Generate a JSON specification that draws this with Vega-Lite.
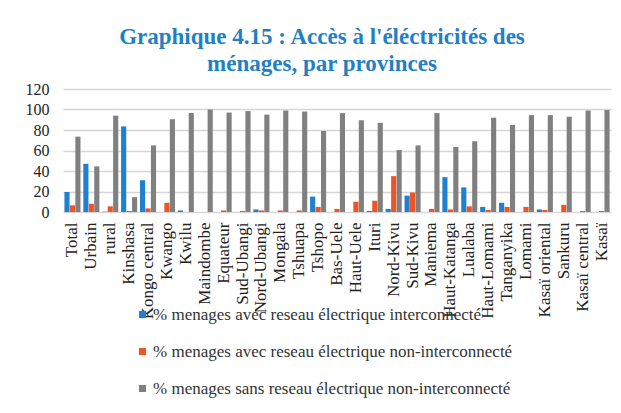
{
  "$schema": "https://vega.github.io/schema/vega-lite/v6.json",
  "autosize": {"type": "none"},
  "width": 548,
  "height": 123,
  "padding": {"left": 63, "top": 89, "right": 10, "bottom": 201},
  "background": "white",
  "title": {
    "text": ["Graphique 4.15 : Accès à l'éléctricités des", "ménages, par provinces"],
    "font": "Liberation Serif",
    "fontSize": 23,
    "fontWeight": "bold",
    "color": "#1f80c6",
    "lineHeight": 27,
    "anchor": "middle",
    "dx": -15,
    "offset": 5
  },
  "config": {
    "view": {"stroke": null},
    "font": "Liberation Serif"
  },
  "data": {
    "values": [
      {"province": "Total", "serie": "% menages avec reseau électrique interconnecté", "valeur": 19.5},
      {"province": "Total", "serie": "% menages avec reseau électrique non-interconnecté", "valeur": 6.5},
      {"province": "Total", "serie": "% menages sans reseau électrique non-interconnecté", "valeur": 73.5},
      {"province": "Urbain", "serie": "% menages avec reseau électrique interconnecté", "valeur": 47},
      {"province": "Urbain", "serie": "% menages avec reseau électrique non-interconnecté", "valeur": 8},
      {"province": "Urbain", "serie": "% menages sans reseau électrique non-interconnecté", "valeur": 44.5},
      {"province": "rural", "serie": "% menages avec reseau électrique interconnecté", "valeur": 0.3},
      {"province": "rural", "serie": "% menages avec reseau électrique non-interconnecté", "valeur": 5.5},
      {"province": "rural", "serie": "% menages sans reseau électrique non-interconnecté", "valeur": 94},
      {"province": "Kinshasa", "serie": "% menages avec reseau électrique interconnecté", "valeur": 83.5},
      {"province": "Kinshasa", "serie": "% menages avec reseau électrique non-interconnecté", "valeur": 1},
      {"province": "Kinshasa", "serie": "% menages sans reseau électrique non-interconnecté", "valeur": 14.5},
      {"province": "Kongo central", "serie": "% menages avec reseau électrique interconnecté", "valeur": 31},
      {"province": "Kongo central", "serie": "% menages avec reseau électrique non-interconnecté", "valeur": 3.5},
      {"province": "Kongo central", "serie": "% menages sans reseau électrique non-interconnecté", "valeur": 65},
      {"province": "Kwango", "serie": "% menages avec reseau électrique interconnecté", "valeur": 0},
      {"province": "Kwango", "serie": "% menages avec reseau électrique non-interconnecté", "valeur": 9},
      {"province": "Kwango", "serie": "% menages sans reseau électrique non-interconnecté", "valeur": 90.5},
      {"province": "Kwilu", "serie": "% menages avec reseau électrique interconnecté", "valeur": 1.5},
      {"province": "Kwilu", "serie": "% menages avec reseau électrique non-interconnecté", "valeur": 0},
      {"province": "Kwilu", "serie": "% menages sans reseau électrique non-interconnecté", "valeur": 96.5},
      {"province": "Maindombe", "serie": "% menages avec reseau électrique interconnecté", "valeur": 0},
      {"province": "Maindombe", "serie": "% menages avec reseau électrique non-interconnecté", "valeur": 0},
      {"province": "Maindombe", "serie": "% menages sans reseau électrique non-interconnecté", "valeur": 100},
      {"province": "Equateur", "serie": "% menages avec reseau électrique interconnecté", "valeur": 0},
      {"province": "Equateur", "serie": "% menages avec reseau électrique non-interconnecté", "valeur": 1.5},
      {"province": "Equateur", "serie": "% menages sans reseau électrique non-interconnecté", "valeur": 97},
      {"province": "Sud-Ubangi", "serie": "% menages avec reseau électrique interconnecté", "valeur": 0},
      {"province": "Sud-Ubangi", "serie": "% menages avec reseau électrique non-interconnecté", "valeur": 1},
      {"province": "Sud-Ubangi", "serie": "% menages sans reseau électrique non-interconnecté", "valeur": 98.5},
      {"province": "Nord-Ubangi", "serie": "% menages avec reseau électrique interconnecté", "valeur": 2.5},
      {"province": "Nord-Ubangi", "serie": "% menages avec reseau électrique non-interconnecté", "valeur": 1.5},
      {"province": "Nord-Ubangi", "serie": "% menages sans reseau électrique non-interconnecté", "valeur": 95},
      {"province": "Mongala", "serie": "% menages avec reseau électrique interconnecté", "valeur": 0},
      {"province": "Mongala", "serie": "% menages avec reseau électrique non-interconnecté", "valeur": 1.5},
      {"province": "Mongala", "serie": "% menages sans reseau électrique non-interconnecté", "valeur": 99},
      {"province": "Tshuapa", "serie": "% menages avec reseau électrique interconnecté", "valeur": 0},
      {"province": "Tshuapa", "serie": "% menages avec reseau électrique non-interconnecté", "valeur": 1.5},
      {"province": "Tshuapa", "serie": "% menages sans reseau électrique non-interconnecté", "valeur": 98},
      {"province": "Tshopo", "serie": "% menages avec reseau électrique interconnecté", "valeur": 15},
      {"province": "Tshopo", "serie": "% menages avec reseau électrique non-interconnecté", "valeur": 5},
      {"province": "Tshopo", "serie": "% menages sans reseau électrique non-interconnecté", "valeur": 79},
      {"province": "Bas-Uele", "serie": "% menages avec reseau électrique interconnecté", "valeur": 0},
      {"province": "Bas-Uele", "serie": "% menages avec reseau électrique non-interconnecté", "valeur": 3},
      {"province": "Bas-Uele", "serie": "% menages sans reseau électrique non-interconnecté", "valeur": 96.5},
      {"province": "Haut-Uele", "serie": "% menages avec reseau électrique interconnecté", "valeur": 0},
      {"province": "Haut-Uele", "serie": "% menages avec reseau électrique non-interconnecté", "valeur": 10},
      {"province": "Haut-Uele", "serie": "% menages sans reseau électrique non-interconnecté", "valeur": 89.5},
      {"province": "Ituri", "serie": "% menages avec reseau électrique interconnecté", "valeur": 1},
      {"province": "Ituri", "serie": "% menages avec reseau électrique non-interconnecté", "valeur": 11},
      {"province": "Ituri", "serie": "% menages sans reseau électrique non-interconnecté", "valeur": 87},
      {"province": "Nord-Kivu", "serie": "% menages avec reseau électrique interconnecté", "valeur": 3},
      {"province": "Nord-Kivu", "serie": "% menages avec reseau électrique non-interconnecté", "valeur": 35},
      {"province": "Nord-Kivu", "serie": "% menages sans reseau électrique non-interconnecté", "valeur": 60.5},
      {"province": "Sud-Kivu", "serie": "% menages avec reseau électrique interconnecté", "valeur": 16},
      {"province": "Sud-Kivu", "serie": "% menages avec reseau électrique non-interconnecté", "valeur": 19},
      {"province": "Sud-Kivu", "serie": "% menages sans reseau électrique non-interconnecté", "valeur": 65},
      {"province": "Maniema", "serie": "% menages avec reseau électrique interconnecté", "valeur": 0},
      {"province": "Maniema", "serie": "% menages avec reseau électrique non-interconnecté", "valeur": 3},
      {"province": "Maniema", "serie": "% menages sans reseau électrique non-interconnecté", "valeur": 96.5},
      {"province": "Haut-Katanga", "serie": "% menages avec reseau électrique interconnecté", "valeur": 34},
      {"province": "Haut-Katanga", "serie": "% menages avec reseau électrique non-interconnecté", "valeur": 2.5},
      {"province": "Haut-Katanga", "serie": "% menages sans reseau électrique non-interconnecté", "valeur": 63.5},
      {"province": "Lualaba", "serie": "% menages avec reseau électrique interconnecté", "valeur": 24},
      {"province": "Lualaba", "serie": "% menages avec reseau électrique non-interconnecté", "valeur": 5.5},
      {"province": "Lualaba", "serie": "% menages sans reseau électrique non-interconnecté", "valeur": 69},
      {"province": "Haut-Lomami", "serie": "% menages avec reseau électrique interconnecté", "valeur": 5},
      {"province": "Haut-Lomami", "serie": "% menages avec reseau électrique non-interconnecté", "valeur": 2},
      {"province": "Haut-Lomami", "serie": "% menages sans reseau électrique non-interconnecté", "valeur": 92},
      {"province": "Tanganyika", "serie": "% menages avec reseau électrique interconnecté", "valeur": 9},
      {"province": "Tanganyika", "serie": "% menages avec reseau électrique non-interconnecté", "valeur": 5},
      {"province": "Tanganyika", "serie": "% menages sans reseau électrique non-interconnecté", "valeur": 85},
      {"province": "Lomami", "serie": "% menages avec reseau électrique interconnecté", "valeur": 0},
      {"province": "Lomami", "serie": "% menages avec reseau électrique non-interconnecté", "valeur": 5},
      {"province": "Lomami", "serie": "% menages sans reseau électrique non-interconnecté", "valeur": 94.5},
      {"province": "Kasaï oriental", "serie": "% menages avec reseau électrique interconnecté", "valeur": 2.5},
      {"province": "Kasaï oriental", "serie": "% menages avec reseau électrique non-interconnecté", "valeur": 2},
      {"province": "Kasaï oriental", "serie": "% menages sans reseau électrique non-interconnecté", "valeur": 94.5},
      {"province": "Sankuru", "serie": "% menages avec reseau électrique interconnecté", "valeur": 0},
      {"province": "Sankuru", "serie": "% menages avec reseau électrique non-interconnecté", "valeur": 7},
      {"province": "Sankuru", "serie": "% menages sans reseau électrique non-interconnecté", "valeur": 93},
      {"province": "Kasaï central", "serie": "% menages avec reseau électrique interconnecté", "valeur": 0},
      {"province": "Kasaï central", "serie": "% menages avec reseau électrique non-interconnecté", "valeur": 1},
      {"province": "Kasaï central", "serie": "% menages sans reseau électrique non-interconnecté", "valeur": 99},
      {"province": "Kasaï", "serie": "% menages avec reseau électrique interconnecté", "valeur": 0},
      {"province": "Kasaï", "serie": "% menages avec reseau électrique non-interconnecté", "valeur": 1},
      {"province": "Kasaï", "serie": "% menages sans reseau électrique non-interconnecté", "valeur": 99.5}
    ]
  },
  "mark": {"type": "bar"},
  "encoding": {
    "x": {
      "field": "province",
      "type": "nominal",
      "sort": null,
      "scale": {"paddingInner": 0.15, "paddingOuter": 0.075},
      "axis": {
        "title": null,
        "labelAngle": -90,
        "labelFont": "Liberation Serif",
        "labelFontSize": 17,
        "labelColor": "#222222",
        "labelPadding": 10,
        "ticks": false,
        "domain": false,
        "labelLimit": 200
      }
    },
    "xOffset": {
      "field": "serie",
      "type": "nominal",
      "sort": null,
      "scale": {"paddingInner": 0.06}
    },
    "y": {
      "field": "valeur",
      "type": "quantitative",
      "scale": {"domain": [0, 120]},
      "axis": {
        "title": null,
        "values": [0, 20, 40, 60, 80, 100, 120],
        "labelFont": "Liberation Serif",
        "labelFontSize": 16,
        "labelColor": "#222222",
        "labelPadding": 14,
        "ticks": false,
        "domain": false,
        "gridColor": "#d6d6d6",
        "gridWidth": 1.5
      }
    },
    "color": {
      "field": "serie",
      "type": "nominal",
      "sort": null,
      "scale": {
        "domain": ["% menages avec reseau électrique interconnecté", "% menages avec reseau électrique non-interconnecté", "% menages sans reseau électrique non-interconnecté"],
        "range": ["#1f80d0", "#f05423", "#808080"]
      },
      "legend": {
        "title": null,
        "orient": "none",
        "legendX": 71,
        "legendY": 217,
        "direction": "vertical",
        "symbolType": "square",
        "symbolSize": 50,
        "labelFont": "Liberation Serif",
        "labelFontSize": 17,
        "labelColor": "#333333",
        "labelLimit": 500,
        "labelOffset": 2,
        "rowPadding": 19
      }
    }
  }
}
